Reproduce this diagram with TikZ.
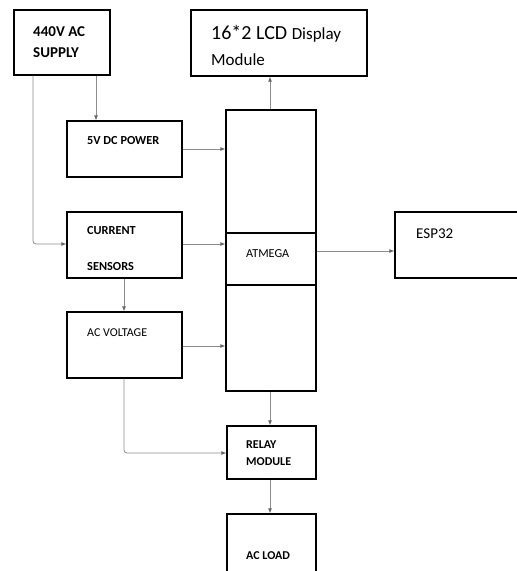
\documentclass[tikz,border=0pt]{standalone}
\usepackage{fontspec}
\setmainfont{Carlito}
\usetikzlibrary{fit,arrows.meta}
\begin{document}
\begin{tikzpicture}[x=1pt,y=-1pt,
  box/.style={draw=black,line width=1.3pt,inner sep=0pt,rectangle},
  lbl/.style={anchor=base west,inner sep=0pt},
  arr/.style={draw=black!45,line width=0.8pt,-{Latex[length=5pt,width=4pt,color=black!60]},rounded corners=3pt}]
\useasboundingbox (0,0) rectangle (517,571);
\clip (0,0) rectangle (517,571);
% boxes
\node[box,fit={(14,10) (110,75)}] (sup) {};
\node[box,fit={(191,10) (367,76)}] (lcd) {};
\node[box,fit={(67,121) (182,177)}] (dc) {};
\node[box,fit={(226,110) (316,391)}] (mcu) {};
\node[box,fit={(226,233) (316,285)}] (atm) {};
\node[box,fit={(395,212) (530,278)}] (esp) {};
\node[box,fit={(67,212) (182,278)}] (cur) {};
\node[box,fit={(67,312) (182,378)}] (acv) {};
\node[box,fit={(227,426) (316,479)}] (rel) {};
\node[box,fit={(227,514) (316,600)}] (load) {};
% labels
\node[lbl,font=\bfseries\fontsize{15}{17}\selectfont] (t1) at (33,36) {440V AC};
\node[lbl,font=\bfseries\fontsize{15}{17}\selectfont] (t2) at (33,57) {SUPPLY};
\node[lbl,font=\fontsize{20}{22}\selectfont] (t3) at (211,39) {16*2 LCD {\fontsize{17}{19}\selectfont Display}};
\node[lbl,font=\fontsize{17}{19}\selectfont] (t4) at (211,65) {Module};
\node[lbl,font=\bfseries\fontsize{12.3}{14}\selectfont] (t5) at (87,144) {5V DC POWER};
\node[lbl,font=\bfseries\fontsize{12.3}{14}\selectfont] (t6) at (87,234) {CURRENT};
\node[lbl,font=\bfseries\fontsize{12.3}{14}\selectfont] (t7) at (87,270) {SENSORS};
\node[lbl,font=\fontsize{12}{14}\selectfont] (t8) at (87,336) {AC VOLTAGE};
\node[lbl,font=\fontsize{12.2}{14}\selectfont] (t9) at (246,257) {ATMEGA};
\node[lbl,font=\fontsize{15}{17}\selectfont] (t10) at (416,238) {ESP32};
\node[lbl,font=\bfseries\fontsize{12}{14}\selectfont] (t11) at (246,448) {RELAY};
\node[lbl,font=\bfseries\fontsize{12}{14}\selectfont] (t12) at (246,465) {MODULE};
\node[lbl,font=\bfseries\fontsize{12}{14}\selectfont] (t13) at (246,559) {AC LOAD};
% helper coordinates
\coordinate (xa) at (33,0);
\coordinate (xb) at (96,0);
\coordinate (xc) at (124,0);
\coordinate (xm) at (270,0);
\coordinate (ycur) at (0,244);
\coordinate (yrel) at (0,453);
\coordinate (ydc) at (0,149);
\coordinate (yacv) at (0,346);
\coordinate (yatm) at (0,251);
% connectors
\draw[arr] (sup.south -| xb) -- (dc.north -| xb);
\draw[arr] (sup.south -| xa) |- (cur.west |- ycur);
\draw[arr] (dc.east |- ydc) -- (mcu.west |- ydc);
\draw[arr] (cur.east |- ycur) -- (mcu.west |- ycur);
\draw[arr] (acv.east |- yacv) -- (mcu.west |- yacv);
\draw[arr] (cur.south -| xc) -- (acv.north -| xc);
\draw[arr] (acv.south -| xc) |- (rel.west |- yrel);
\draw[arr] (mcu.north -| xm) -- (lcd.south -| xm);
\draw[arr] (atm.east |- yatm) -- (esp.west |- yatm);
\draw[arr] (mcu.south -| xm) -- (rel.north -| xm);
\draw[arr] (rel.south -| xm) -- (load.north -| xm);
\end{tikzpicture}
\end{document}
